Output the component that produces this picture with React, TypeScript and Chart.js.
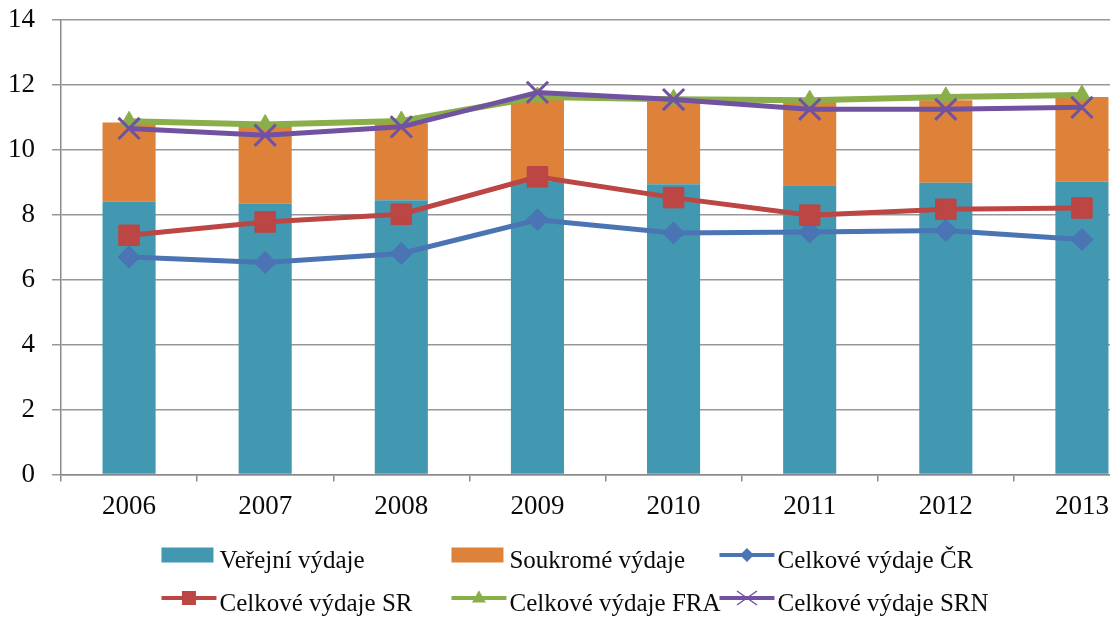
import React, { useEffect, useRef } from 'react';
import { Chart, registerables } from 'chart.js';

Chart.register(...registerables);

const years = ['2006', '2007', '2008', '2009', '2010', '2011', '2012', '2013'];
const verejniVydaje = [8.4, 8.35, 8.45, 9.01, 8.94, 8.91, 8.99, 9.03];
const soukromeVydaje = [2.44, 2.41, 2.37, 2.62, 2.59, 2.57, 2.54, 2.6];
const celkoveCR = [6.7, 6.53, 6.81, 7.85, 7.44, 7.47, 7.52, 7.24];
const celkoveSR = [7.37, 7.78, 8.02, 9.17, 8.53, 7.99, 8.17, 8.21];
const celkoveFRA = [10.88, 10.78, 10.89, 11.63, 11.56, 11.53, 11.63, 11.69];
const celkoveSRN = [10.66, 10.45, 10.71, 11.77, 11.55, 11.25, 11.25, 11.31];
const yMin = 0;
const yMax = 14;
const yStep = 2;

const FONT_FAMILY = '"Liberation Serif", "Times New Roman", serif';
const TEXT_COLOR = '#0a0a0a';
const GRID_COLOR = '#979797';

const TEAL = '#4298b0';
const ORANGE = '#de823a';
const BLUE = '#4a74b4';
const RED = '#bc4644';
const GREEN = '#8aae4a';
const PURPLE = '#7152a0';

function drawMarker(ctx: CanvasRenderingContext2D, style: string, x: number, y: number, s: number, color: string) {
  ctx.save();
  ctx.fillStyle = color;
  ctx.strokeStyle = color;
  ctx.beginPath();
  if (style === 'rectRot') {
    ctx.moveTo(x, y - s);
    ctx.lineTo(x + s, y);
    ctx.lineTo(x, y + s);
    ctx.lineTo(x - s, y);
    ctx.closePath();
    ctx.fill();
  } else if (style === 'rect') {
    ctx.rect(x - s, y - s, 2 * s, 2 * s);
    ctx.fill();
  } else if (style === 'triangle') {
    ctx.moveTo(x, y - s * 1.1);
    ctx.lineTo(x + s, y + s * 0.65);
    ctx.lineTo(x - s, y + s * 0.65);
    ctx.closePath();
    ctx.fill();
  } else if (style === 'crossRot') {
    ctx.lineWidth = 1.5;
    ctx.moveTo(x - s, y - s * 0.7);
    ctx.lineTo(x + s, y + s * 0.7);
    ctx.moveTo(x + s, y - s * 0.7);
    ctx.lineTo(x - s, y + s * 0.7);
    ctx.stroke();
  }
  ctx.restore();
}

const LEGEND_COLS = [290, 268];

const gridLegend = {
  id: 'gridLegend',
  afterDraw(chart: any) {
    const ctx: CanvasRenderingContext2D = chart.ctx;
    const ds = chart.data.datasets;
    const rows = [[0, 1, 2], [3, 4, 5]];
    const iconW = 55;
    const gap = 3;
    ctx.save();
    ctx.font = `25px ${FONT_FAMILY}`;
    const lastW = Math.max(...rows.map((r) => iconW + gap + ctx.measureText(ds[r[2]].label).width));
    const total = LEGEND_COLS[0] + LEGEND_COLS[1] + lastW;
    const x0 = (chart.width - total) / 2 - 9;
    const baselines = [chart.height - 50, chart.height - 7];
    rows.forEach((r, ri) => {
      let x = x0;
      r.forEach((di, ci) => {
        const d = ds[di];
        const base = baselines[ri];
        const cy = base - 13;
        if (d.type === 'line') {
          ctx.strokeStyle = d.borderColor;
          ctx.lineWidth = 4;
          ctx.beginPath();
          ctx.moveTo(x, cy);
          ctx.lineTo(x + iconW, cy);
          ctx.stroke();
          drawMarker(ctx, d.pointStyle, x + iconW / 2, cy, d.pointStyle === 'crossRot' ? 10 : 7, d.borderColor);
        } else {
          ctx.fillStyle = d.backgroundColor;
          ctx.fillRect(x, cy - 7.5, 52, 15);
        }
        ctx.fillStyle = TEXT_COLOR;
        ctx.textBaseline = 'alphabetic';
        ctx.textAlign = 'left';
        ctx.fillText(d.label, x + iconW + gap, base);
        x += LEGEND_COLS[ci] || 0;
      });
    });
    ctx.restore();
  },
};

export default function App() {
  const canvasRef = useRef<HTMLCanvasElement | null>(null);

  useEffect(() => {
    if (!canvasRef.current) return;
    const lineDs = (label: string, data: number[], color: string, style: string, radius: number, order: number, width: number) => ({
      type: 'line' as const,
      label,
      data,
      borderColor: color,
      backgroundColor: color,
      borderWidth: width,
      pointStyle: style,
      pointRadius: radius,
      pointBorderWidth: style === 'crossRot' ? 3 : 1,
      pointBackgroundColor: color,
      pointBorderColor: color,
      tension: 0,
      fill: false,
      order,
      stack: label,
    });
    const chart = new Chart(canvasRef.current, {
      type: 'bar',
      data: {
        labels: years,
        datasets: [
          {
            type: 'bar',
            label: 'Veřejní výdaje',
            data: verejniVydaje,
            backgroundColor: TEAL,
            stack: 'bars',
            order: 10,
            barPercentage: 0.39,
            categoryPercentage: 1,
          },
          {
            type: 'bar',
            label: 'Soukromé výdaje',
            data: soukromeVydaje,
            backgroundColor: ORANGE,
            stack: 'bars',
            order: 10,
            barPercentage: 0.39,
            categoryPercentage: 1,
          },
          lineDs('Celkové výdaje ČR', celkoveCR, BLUE, 'rectRot', 11, 4, 5),
          lineDs('Celkové výdaje SR', celkoveSR, RED, 'rect', 14.5, 3, 5),
          lineDs('Celkové výdaje FRA', celkoveFRA, GREEN, 'triangle', 10, 2, 6),
          lineDs('Celkové výdaje SRN', celkoveSRN, PURPLE, 'crossRot', 15, 1, 5),
        ] as any,
      },
      options: {
        animation: false,
        responsive: false,
        devicePixelRatio: 1,
        layout: { padding: { left: 0, top: 20, right: 2, bottom: 86 } },
        plugins: {
          legend: { display: false },
          tooltip: { enabled: false },
          title: { display: false },
        },
        scales: {
          x: {
            stacked: true,
            offset: true,
            grid: {
              display: true,
              offset: true,
              drawOnChartArea: false,
              drawTicks: true,
              tickLength: 7,
              color: '#8a8a8a',
              lineWidth: 1.5,
            },
            border: { display: true, color: '#8a8a8a', width: 1.5 },
            ticks: {
              color: TEXT_COLOR,
              font: { family: FONT_FAMILY, size: 27 },
              padding: 9,
              maxRotation: 0,
            },
          },
          y: {
            stacked: true,
            min: yMin,
            max: yMax,
            afterFit: (scale: any) => {
              scale.width = 61;
            },
            grid: {
              color: GRID_COLOR,
              lineWidth: 1.5,
              tickLength: 9,
              drawTicks: true,
            },
            border: { display: true, color: '#8a8a8a', width: 1.5 },
            ticks: {
              stepSize: yStep,
              color: TEXT_COLOR,
              font: { family: FONT_FAMILY, size: 27, lineHeight: 0.2 },
              padding: 17,
            },
          },
        },
      },
      plugins: [gridLegend],
    });
    return () => chart.destroy();
  }, []);

  return (
    <div style={{ position: 'fixed', left: 0, top: 0, width: 1110, height: 618, overflow: 'hidden', background: '#fff' }}>
      <canvas ref={canvasRef} width={1168} height={618} style={{ display: 'block' }} />
    </div>
  );
}
